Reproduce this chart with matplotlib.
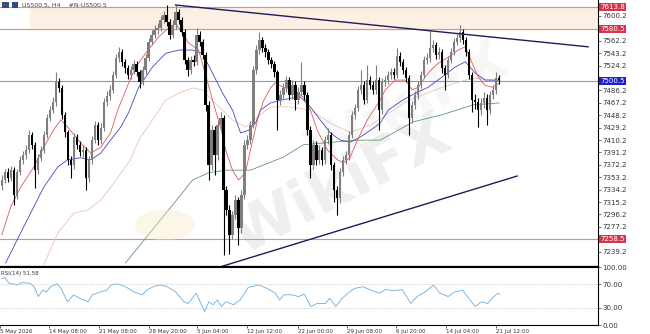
import matplotlib
matplotlib.use("Agg")
import matplotlib.pyplot as plt
from matplotlib.patches import Rectangle, Circle
import numpy as np

# ---- data (US500.5, H4) ----
first_open = 7340
closes = [7349, 7361, 7352, 7364, 7326, 7361, 7380, 7387, 7395, 7418,
          7403, 7364, 7383, 7395, 7418, 7444, 7456, 7468, 7499, 7490,
          7449, 7422, 7380, 7372, 7415, 7403, 7392, 7395, 7352, 7380,
          7410, 7433, 7410, 7429, 7468, 7478, 7487, 7510, 7536, 7545,
          7530, 7520, 7510, 7517, 7527, 7514, 7499, 7517, 7536, 7560,
          7571, 7579, 7582, 7594, 7602, 7591, 7571, 7586, 7606, 7594,
          7576, 7533, 7517, 7533, 7530, 7571, 7560, 7540, 7464, 7372,
          7426, 7387, 7433, 7444, 7334, 7303, 7265, 7295, 7318, 7275,
          7326, 7403, 7410, 7433, 7517, 7548, 7563, 7551, 7545, 7533,
          7527, 7514, 7472, 7479, 7490, 7502, 7479, 7495, 7472, 7484,
          7495, 7479, 7426, 7372, 7403, 7380, 7395, 7380, 7410, 7418,
          7372, 7334, 7321, 7361, 7380, 7387, 7418, 7449, 7459, 7487,
          7495, 7472, 7502, 7495, 7487, 7502, 7456, 7499, 7502, 7510,
          7514, 7510, 7539, 7530, 7517, 7505, 7444, 7464, 7479, 7495,
          7510, 7533, 7536, 7551, 7556, 7540, 7545, 7520, 7510, 7533,
          7545, 7560, 7566, 7576, 7563, 7545, 7510, 7472, 7468, 7456,
          7467, 7475, 7456, 7479, 7487, 7505, 7502]
highs = [7356, 7366, 7368, 7370, 7369, 7366, 7386, 7394, 7402, 7426,
         7422, 7407, 7389, 7401, 7424, 7450, 7462, 7476, 7514, 7505,
         7494, 7453, 7426, 7386, 7421, 7420, 7408, 7402, 7399, 7386,
         7416, 7440, 7438, 7436, 7474, 7485, 7494, 7516, 7542, 7553,
         7550, 7535, 7525, 7523, 7533, 7532, 7518, 7523, 7542, 7566,
         7578, 7586, 7590, 7600, 7608, 7617, 7595, 7594, 7617, 7611,
         7598, 7580, 7538, 7539, 7540, 7582, 7577, 7565, 7545, 7470,
         7433, 7432, 7440, 7453, 7449, 7340, 7310, 7302, 7326, 7323,
         7333, 7410, 7418, 7440, 7523, 7555, 7576, 7568, 7557, 7550,
         7538, 7532, 7518, 7487, 7497, 7509, 7507, 7502, 7500, 7491,
         7530, 7500, 7484, 7431, 7410, 7408, 7402, 7400, 7417, 7428,
         7422, 7377, 7340, 7368, 7386, 7394, 7424, 7455, 7466, 7493,
         7517, 7500, 7525, 7508, 7500, 7525, 7507, 7505, 7509, 7516,
         7520, 7520, 7551, 7545, 7535, 7522, 7510, 7470, 7486, 7501,
         7516, 7539, 7543, 7579, 7563, 7561, 7552, 7549, 7525, 7539,
         7551, 7566, 7573, 7586, 7581, 7568, 7550, 7514, 7480, 7474,
         7474, 7483, 7481, 7486, 7494, 7514, 7510]
lows = [7334, 7344, 7346, 7348, 7310, 7320, 7356, 7374, 7381, 7390,
        7396, 7337, 7358, 7378, 7390, 7413, 7439, 7451, 7463, 7484,
        7442, 7415, 7372, 7352, 7366, 7396, 7386, 7384, 7334, 7346,
        7374, 7405, 7403, 7404, 7424, 7462, 7472, 7482, 7505, 7530,
        7524, 7513, 7503, 7504, 7512, 7508, 7490, 7494, 7512, 7531,
        7555, 7566, 7573, 7577, 7589, 7585, 7565, 7566, 7581, 7588,
        7570, 7527, 7508, 7512, 7523, 7525, 7554, 7534, 7455, 7349,
        7365, 7357, 7380, 7426, 7234, 7295, 7235, 7258, 7289, 7249,
        7268, 7320, 7396, 7404, 7428, 7512, 7542, 7545, 7538, 7527,
        7520, 7507, 7425, 7464, 7473, 7484, 7472, 7473, 7456, 7466,
        7478, 7472, 7418, 7352, 7366, 7372, 7373, 7372, 7374, 7404,
        7365, 7315, 7295, 7314, 7355, 7373, 7380, 7413, 7443, 7454,
        7481, 7465, 7467, 7489, 7480, 7481, 7425, 7450, 7493, 7496,
        7504, 7503, 7505, 7524, 7511, 7499, 7418, 7437, 7458, 7473,
        7490, 7505, 7527, 7530, 7545, 7534, 7534, 7513, 7487, 7505,
        7528, 7540, 7555, 7561, 7557, 7539, 7503, 7453, 7458, 7430,
        7449, 7460, 7433, 7450, 7473, 7481, 7496]

# moving averages (bar index, price)
red_x = [0, 3, 6.3, 10.7, 14, 17.3, 19.7, 22, 26.3, 29.7, 33, 36.3, 38.7, 42.3, 44.7,
         48, 52.3, 55.7, 58, 60.3, 62.3, 65.7, 67.3, 69.7, 71.3, 73, 74.7, 77, 79, 81.3,
         83, 85.3, 87.3, 89.7, 91.3, 94, 97.3, 100.7, 103, 105.3, 108.7, 112, 114, 116.3,
         118.7, 122, 125.7, 128, 131.3, 134.7, 137, 139, 142.3, 145.7, 149, 152.3, 154.7,
         157, 159, 161.3, 163.7, 166]
red_y = [7265, 7308, 7338, 7369, 7399, 7426, 7441, 7430, 7406, 7390, 7399, 7421, 7456, 7497, 7522,
         7543, 7568, 7582, 7589, 7574, 7559, 7548, 7522, 7482, 7456, 7430, 7395, 7364, 7349, 7360,
         7395, 7440, 7470, 7490, 7498, 7491, 7487, 7476, 7456, 7425, 7395, 7380, 7375, 7384,
         7410, 7441, 7467, 7487, 7502, 7502, 7487, 7491, 7513, 7528, 7537, 7548, 7553,
         7528, 7507, 7494, 7491, 7497]
blue_x = [1.3, 6.3, 10.7, 14, 18.7, 22, 26.3, 29.7, 33, 36.3, 39.7, 42.3, 45.7, 50.3, 54.7,
          59, 63.7, 67, 70.3, 73.7, 77, 79.7, 82.3, 84.7, 86.3, 89.7, 93, 96.3, 99.7, 103,
          106.3, 109.7, 113, 116.3, 119.7, 123, 126.3, 129, 133.7, 138, 142.3, 147, 151.3,
          154.7, 158, 161.3, 166]
blue_y = [7222, 7268, 7308, 7338, 7369, 7380, 7383, 7380, 7390, 7410, 7430, 7452, 7491, 7522, 7543,
          7548, 7548, 7543, 7513, 7482, 7456, 7421, 7425, 7436, 7456, 7467, 7471, 7474, 7476, 7461,
          7441, 7421, 7410, 7407, 7415, 7425, 7436, 7456, 7471, 7482, 7491, 7507, 7522,
          7530, 7513, 7502, 7502]
pale_x = [14, 18.7, 24, 28.7, 33, 37.3, 43, 45.7, 50.3, 54.7, 59, 63.7, 67, 70.3, 73.7,
          77, 81.3, 89.7, 96.3, 103, 109.7, 116.3, 123, 135.7, 147, 154.7, 158, 163.7, 166]
pale_y = [7219, 7268, 7298, 7303, 7318, 7344, 7380, 7410, 7441, 7471, 7482, 7490, 7487, 7471, 7456,
          7441, 7430, 7461, 7461, 7456, 7436, 7422, 7433, 7471, 7491, 7502, 7505, 7502, 7502]
green_x = [41.3, 53, 59.7, 63.7, 69, 74.7, 83, 94, 100.7, 110.7, 118.7, 126.3, 137.3, 147, 157.3, 166]
green_y = [7222, 7288, 7326, 7349, 7360, 7364, 7364, 7384, 7403, 7407, 7410, 7410, 7438, 7449, 7464, 7467]

# RSI(14)
rsi_x = [0, 1, 2.4, 5.2, 6.6, 9.4, 10.8, 12.2, 13.6, 14.9, 16.3, 18.4, 19.8, 21.9, 24, 26,
         28.8, 30.2, 33, 35, 36.5, 38.6, 41.3, 44.1, 46.9, 48.3, 51, 53.1, 55.2, 58, 60.8,
         62.2, 64.9, 67.7, 69.1, 70.5, 71.9, 73.3, 74.7, 77.4, 79.5, 82.3, 85.8, 88.6, 91.3,
         92.7, 94.1, 96.9, 99, 101, 103.1, 105.2, 108, 109.4, 111.5, 113.6, 115.6, 117.7,
         120.5, 123.3, 126, 128.1, 130.9, 133.7, 136.5, 138.6, 141.3, 144.1, 146.2, 149,
         151.1, 153.8, 155.9, 158, 160.1, 162.2, 163.6, 165.6, 166.3]
rsi_y = [80, 82, 72, 69, 73, 72, 66, 49, 60, 57, 66, 71, 63, 40, 52, 46,
         40, 52, 57, 60, 69, 71, 66, 57, 52, 60, 67, 69, 66, 57, 40,
         37, 55, 23, 40, 35, 43, 32, 40, 35, 43, 65, 69, 63, 55,
         43, 52, 52, 49, 53, 32, 37, 37, 46, 32, 46, 55, 63,
         66, 60, 55, 61, 59, 61, 37, 49, 57, 69, 55, 49,
         57, 60, 46, 32, 40, 37, 46, 55, 53]

# levels and trend lines
zone_top, zone_bottom = 7613.8, 7580.5
pivot_level = 7500.5
support_level = 7258.5
upper_trend_x, upper_trend_y = [58, 195.7], [7617, 7553]
lower_trend_x, lower_trend_y = [73.7, 172], [7217, 7355]

# scale labels (the ones hidden behind the level tags are left out)
price_ticks = [7600.2, 7562.2, 7543.2, 7524.2, 7486.2, 7467.2, 7448.2, 7429.2, 7410.2,
               7391.2, 7372.2, 7353.2, 7334.2, 7315.2, 7296.2, 7277.2, 7239.2]
time_tick_pos = [-0.6, 15.7, 32.3, 49, 65.3, 82, 98.7, 115.3, 131.7, 148.3, 165]
time_tick_labels = ["5 May 2026", "14 May 08:00", "21 May 08:00", "28 May 20:00",
                    "5 Jun 04:00", "12 Jun 12:00", "22 Jun 00:00", "29 Jun 08:00",
                    "6 Jul 20:00", "14 Jul 04:00", "21 Jul 12:00"]

# ---- figure ----
W, H = 650, 334
fig = plt.figure(figsize=(W / 100, H / 100), dpi=100)


def px_box(x0, y0, x1, y1):
    return [x0 / W, 1 - y1 / H, (x1 - x0) / W, (y1 - y0) / H]


ax = fig.add_axes(px_box(0, 0, 598, 266))
rx = fig.add_axes(px_box(0, 267, 598, 325), sharex=ax)

# watermark
fig.patches.append(Circle((165 / W, 1 - 225 / H), 30 / W, transform=fig.transFigure,
                          facecolor="#f7e9c4", alpha=0.4, edgecolor="none", zorder=0))
ax.text(0.57, 0.30, "WikiFX", transform=ax.transAxes, fontsize=44, fontweight="bold",
        color="#9a9a9a", alpha=0.16, rotation=27, ha="center", va="center", zorder=0.5)
ax.text(0.68, 0.60, "WikiFX", transform=ax.transAxes, fontsize=40, fontweight="bold",
        color="#9a9a9a", alpha=0.08, rotation=27, ha="center", va="center", zorder=0.5)

# zone and horizontal levels
ax.axhspan(zone_bottom, zone_top, xmin=30 / 598, xmax=1, color="#fcefe3", zorder=0.2)
for lvl in (zone_top, zone_bottom, support_level):
    ax.axhline(lvl, color="#e38a8a", lw=0.8, zorder=1)
ax.axhline(pivot_level, color="#8f8fe0", lw=0.8, zorder=1)

# moving averages
ax.plot(green_x, green_y, color="#5f9a6c", lw=0.6, zorder=2)
ax.plot(pale_x, pale_y, color="#ecc3ba", lw=0.6, zorder=2)
ax.plot(blue_x, blue_y, color="#4747b8", lw=0.6, zorder=2)
ax.plot(red_x, red_y, color="#e05a5a", lw=0.6, zorder=2)

# candles
idx = np.arange(len(closes))
o = np.array([first_open] + closes[:-1], dtype=float)
c = np.array(closes, dtype=float)
up = c >= o
cols = np.where(up, "#7f7f7f", "#000000")
ax.vlines(idx, lows, highs, colors=cols, lw=0.8, zorder=3)
ax.bar(idx, np.maximum(np.abs(c - o), 0.8), bottom=np.minimum(o, c), width=0.75,
       color=cols, lw=0, zorder=3)

# trend lines
ax.plot(upper_trend_x, upper_trend_y, color="#1c1c5a", lw=1.0, zorder=4)
ax.plot(lower_trend_x, lower_trend_y, color="#1c1c5a", lw=1.0, zorder=4)

ax.set_xlim(-0.33, 199)
ax.set_ylim(7217.2, 7624.7)
ax.yaxis.tick_right()
ax.set_yticks(price_ticks)
ax.set_yticklabels([f"{t:.1f}" for t in price_ticks])
ax.tick_params(axis="y", labelsize=5, length=2, pad=1, colors="#333333", width=0.5)
ax.tick_params(axis="x", bottom=False, labelbottom=False)
for s in ("left", "top"):
    ax.spines[s].set_visible(False)
ax.spines["right"].set_linewidth(0.8)
ax.spines["bottom"].set_linewidth(0.9)

# level price tags on the scale
tags = [(zone_top, "7613.8", "#d8344c"), (zone_bottom, "7580.5", "#d8344c"),
        (pivot_level, "7500.5", "#1f1fd0"), (support_level, "7258.5", "#d8344c")]
for val, txt, col in tags:
    ax.text(1.004, val, txt, transform=ax.get_yaxis_transform(), fontsize=5,
            color="white", va="center", ha="left", zorder=6, clip_on=False,
            bbox=dict(boxstyle="square,pad=0.15", facecolor=col, edgecolor="none"))

# RSI panel
rx.plot(rsi_x, rsi_y, color="#6aaee0", lw=0.6)
for lvl in (30, 70):
    rx.axhline(lvl, color="#b0b0b0", lw=0.5, ls=(0, (1, 1.5)))
rx.set_ylim(0, 100)
rx.yaxis.tick_right()
rx.set_yticks([0, 30, 70, 100])
rx.set_yticklabels(["0.00", "30.00", "70.00", "100.00"])
rx.tick_params(axis="y", labelsize=5, length=2, pad=1, colors="#333333", width=0.5)
rx.set_xticks(time_tick_pos)
rx.set_xticklabels(time_tick_labels, ha="left")
rx.tick_params(axis="x", labelsize=4, length=2, pad=1, colors="#333333", width=0.5)
rx.spines["left"].set_visible(False)
for s in ("top", "right", "bottom"):
    rx.spines[s].set_linewidth(0.8)
rx.text(0.002, 0.93, "RSI(14) 51.58", transform=rx.transAxes, fontsize=4,
        color="#333333", va="top", ha="left")

# header
fig.patches.append(Rectangle((2 / W, 1 - 8 / H), 7 / W, 6 / H, transform=fig.transFigure,
                             facecolor="#3c4f73", edgecolor="none"))
fig.patches.append(Rectangle((12 / W, 1 - 8 / H), 6 / W, 6 / H, transform=fig.transFigure,
                             facecolor="#2b4a8a", edgecolor="none"))
fig.text(22 / W, 1 - 5 / H, "US500.5, H4    #N-US500.5", fontsize=4.5, color="#444444",
         va="center", ha="left")

fig.savefig("out.png", dpi=100)
